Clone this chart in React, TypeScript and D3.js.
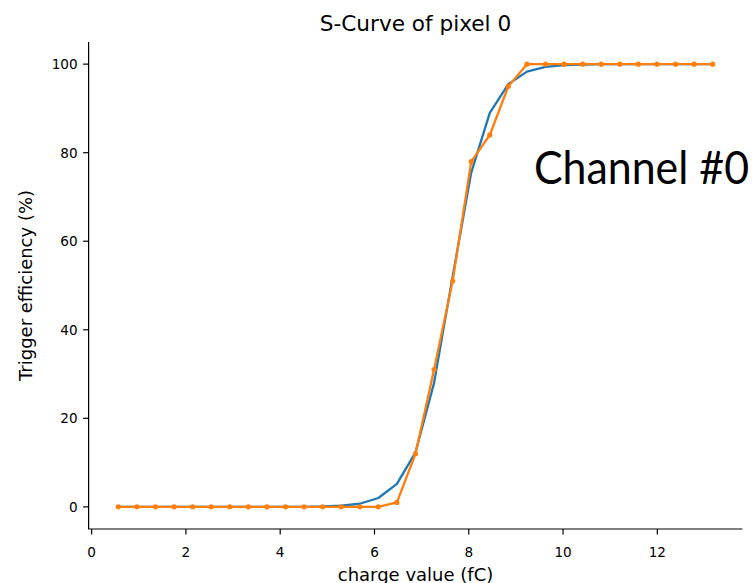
import React from "react";
import * as d3 from "d3";

const chargeValues = [
  0.566, 0.96, 1.354, 1.748, 2.142, 2.536, 2.93, 3.324, 3.718, 4.112, 4.506,
  4.9, 5.294, 5.688, 6.082, 6.476, 6.87, 7.264, 7.658, 8.052, 8.446, 8.84,
  9.234, 9.628, 10.022, 10.416, 10.81, 11.204, 11.598, 11.992, 12.386, 12.78,
  13.174,
];
const fitEfficiency = [
  0, 0, 0, 0, 0, 0, 0, 0, 0, 0, 0, 0.1, 0.3, 0.7, 2.0, 5.2, 12.3, 28, 52, 75.5,
  89, 95.5, 98.3, 99.4, 99.8, 99.9, 100, 100, 100, 100, 100, 100, 100,
];
const measuredEfficiency = [
  0, 0, 0, 0, 0, 0, 0, 0, 0, 0, 0, 0, 0, 0, 0, 1, 12, 31, 51, 78, 84, 95, 100,
  100, 100, 100, 100, 100, 100, 100, 100, 100, 100,
];
const xTicks = [0, 2, 4, 6, 8, 10, 12];
const yTicks = [0, 20, 40, 60, 80, 100];

const W = 753;
const H = 583;
const FONT = "'DejaVu Sans', sans-serif";

export default function App() {
  const [xmin, xmax] = d3.extent(chargeValues) as [number, number];
  const pad = (xmax - xmin) * 0.05;
  const x = d3.scaleLinear().domain([xmin - pad, xmax + pad]).range([88.6, 742.4]);
  const y = d3.scaleLinear().domain([-5, 105]).range([529, 42]);

  const fitPts: [number, number][] = chargeValues.map((c, i) => [c, fitEfficiency[i]]);
  const measPts: [number, number][] = chargeValues.map((c, i) => [c, measuredEfficiency[i]]);
  const line = d3
    .line<[number, number]>()
    .x((d) => x(d[0]))
    .y((d) => y(d[1]));

  const [x0, x1] = x.range();
  const [yb, yt] = y.range();
  const cx = (x0 + x1) / 2;

  return (
    <svg
      width={W}
      height={H}
      style={{ position: "absolute", left: 0, top: 0, background: "#fff" }}
      fontFamily={FONT}
    >
      <rect width={W} height={H} fill="#fff" />
      <text x={cx} y={31} textAnchor="middle" fontSize={21.6} fill="#000">
        S-Curve of pixel 0
      </text>

      <path d={line(fitPts) ?? ""} fill="none" stroke="#1f77b4" strokeWidth={2.3} strokeLinejoin="round" />
      <path d={line(measPts) ?? ""} fill="none" stroke="#ff7f0e" strokeWidth={2.3} strokeLinejoin="round" />
      {measPts.map((d, i) => (
        <circle key={i} cx={x(d[0])} cy={y(d[1])} r={2.6} fill="#ff7f0e" />
      ))}

      {/* spines */}
      <line x1={x0} x2={x0} y1={yb} y2={yt} stroke="#000" strokeWidth={1.2} />
      <line x1={x0 - 0.6} x2={x1} y1={yb} y2={yb} stroke="#000" strokeWidth={1.2} />

      {xTicks.map((t) => (
        <g key={t}>
          <line x1={x(t)} x2={x(t)} y1={yb} y2={yb + 5.5} stroke="#000" strokeWidth={1.2} />
          <text x={x(t)} y={yb + 28} textAnchor="middle" fontSize={13.6} fill="#000">
            {t}
          </text>
        </g>
      ))}
      {yTicks.map((t) => (
        <g key={t}>
          <line x1={x0} x2={x0 - 5.5} y1={y(t)} y2={y(t)} stroke="#000" strokeWidth={1.2} />
          <text x={x0 - 11} y={y(t)} dy="0.36em" textAnchor="end" fontSize={13.6} fill="#000">
            {t}
          </text>
        </g>
      ))}

      <text x={cx} y={581} textAnchor="middle" fontSize={18} fill="#000">
        charge value (fC)
      </text>
      <text
        transform={`translate(32,${(yb + yt) / 2}) rotate(-90)`}
        textAnchor="middle"
        fontSize={18}
        fill="#000"
      >
        Trigger efficiency (%)
      </text>

      <text
        x={534}
        y={184}
        fontSize={46}
        fontFamily="Lato, 'Open Sans', sans-serif"
        textLength={215}
        lengthAdjust="spacingAndGlyphs"
        fill="#000"
      >
        Channel #0
      </text>
    </svg>
  );
}
